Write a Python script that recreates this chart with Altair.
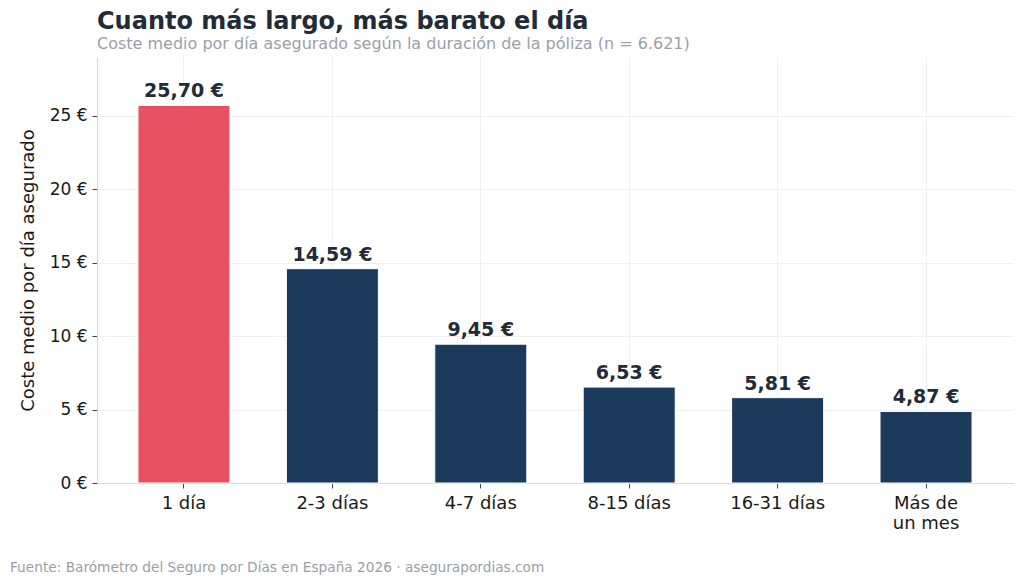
import altair as alt
import pandas as pd

categories = ["1 día", "2-3 días", "4-7 días", "8-15 días", "16-31 días", "Más de un mes"]
values = [25.70, 14.59, 9.45, 6.53, 5.81, 4.87]
highlight = [True, False, False, False, False, False]
y_ticks = [0, 5, 10, 15, 20, 25]

title_text = "Cuanto más largo, más barato el día"
subtitle_text = "Coste medio por día asegurado según la duración de la póliza (n = 6.621)"
footer_text = "Fuente: Barómetro del Seguro por Días en España 2026 · asegurapordias.com"
y_title = "Coste medio por día asegurado"

df = pd.DataFrame({"cat": categories, "v": values, "hl": highlight})

FONT = "DejaVu Sans"
W, H = 916, 426

x_enc = alt.X(
    "cat:N",
    sort=categories,
    title=None,
    scale=alt.Scale(paddingInner=0.38, paddingOuter=0.276),
    axis=alt.Axis(
        labelAngle=0,
        labelFont=FONT,
        labelFontSize=18,
        labelColor="#1a1a1a",
        labelPadding=6,
        labelExpr="datum.label == 'Más de un mes' ? ['Más de', 'un mes'] : datum.label",
        grid=True,
        gridColor="#eeeff2",
        bandPosition=0.5,
        domainColor="#d5d8de",
        tickColor="#444444",
        tickSize=5,
    ),
)

y_scale = alt.Scale(domain=[0, 29], nice=False)

bars = alt.Chart(df).mark_bar(stroke="white", strokeWidth=1).encode(
    x=x_enc,
    y=alt.Y(
        "v:Q",
        scale=y_scale,
        title=y_title,
        axis=alt.Axis(
            values=y_ticks,
            labelExpr="datum.value + ' €'",
            labelFont=FONT,
            labelFontSize=17,
            labelColor="#1a1a1a",
            labelPadding=5,
            titleFont=FONT,
            titleFontSize=18,
            titleFontWeight="normal",
            titleColor="#1a1a1a",
            titlePadding=12,
            gridColor="#eeeff2",
            domainColor="#d5d8de",
            tickColor="#444444",
            tickSize=5,
        ),
    ),
    color=alt.Color(
        "hl:N",
        scale=alt.Scale(domain=[True, False], range=["#E85161", "#1B3A5C"]),
        legend=None,
    ),
)

labels = alt.Chart(df).transform_calculate(
    lab="replace(format(datum.v, '.2f'), '.', ',') + ' €'"
).mark_text(
    font=FONT, fontSize=19, fontWeight="bold", color="#222b36", baseline="bottom", dy=-4
).encode(
    x=alt.X("cat:N", sort=categories),
    y=alt.Y("v:Q", scale=y_scale),
    text="lab:N",
)

footer = alt.Chart(pd.DataFrame({"t": [footer_text]})).mark_text(
    font=FONT, fontSize=13.7, color="#9aa0a8", align="left", baseline="middle"
).encode(
    x=alt.value(-87),
    y=alt.value(H + 85),
    text="t:N",
)

chart = alt.layer(bars, labels, footer).properties(
    width=W,
    height=H,
    padding={"left": 89, "top": 49, "right": 3, "bottom": 96},
    autosize=alt.AutoSizeParams(type="none"),
    title=alt.TitleParams(
        text=title_text,
        subtitle=subtitle_text,
        anchor="start",
        frame="group",
        font=FONT,
        fontSize=24,
        fontWeight="bold",
        color="#222b36",
        subtitleFont=FONT,
        subtitleFontSize=16,
        subtitleColor="#9aa0a8",
        subtitlePadding=2,
        offset=5,
    ),
).configure_view(stroke=None)

chart.save("out.html", embed_options={"renderer": "svg", "actions": False})
